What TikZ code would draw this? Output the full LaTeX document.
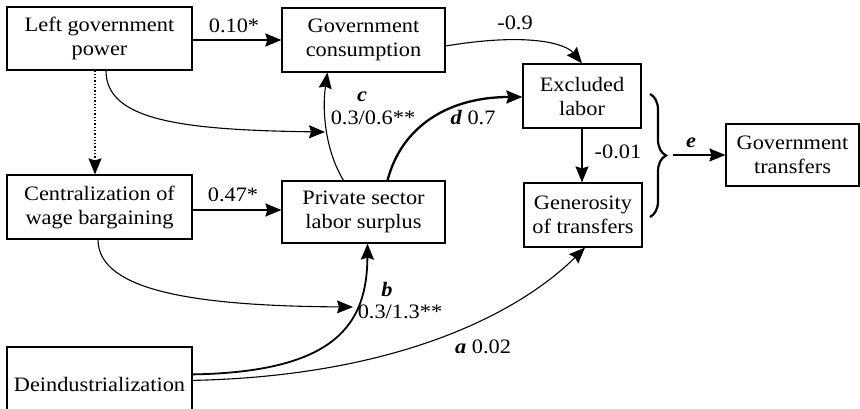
\documentclass[tikz,border=0pt]{standalone}
\usepackage{fontspec}
\setmainfont{Liberation Serif}
\newfontfamily\tnr{Liberation Serif}[FakeStretch=1.09]
\usetikzlibrary{arrows.meta,calc,decorations.pathreplacing}
\begin{document}
\begin{tikzpicture}[x=1pt,y=-1pt,
  box/.style={draw,line width=1.2pt,align=center,inner sep=0pt,font=\tnr\fontsize{20.5}{24}\selectfont},
  lbl/.style={font=\tnr\fontsize{20.5}{24}\selectfont,inner sep=0pt},
  tip/.style={-{Stealth[length=16pt,width=13pt,inset=2pt]}},
  thin/.style={tip,line width=1.1pt},
  med/.style={tip,line width=1.8pt},
  thick/.style={tip,line width=2.3pt}]
\useasboundingbox (0,0) rectangle (860,409);
\node[box,minimum width=185pt,minimum height=63pt] (lgp) at (99.5,38.5) {Left government\\power};
\node[box,minimum width=163pt,minimum height=64pt] (gc) at (363.5,40) {Government\\consumption};
\node[box,minimum width=118pt,minimum height=64pt] (el) at (582,96) {Excluded\\labor};
\node[box,minimum width=118pt,minimum height=64pt] (gen) at (583,215) {Generosity\\of transfers};
\node[box,minimum width=133pt,minimum height=62pt] (gt) at (792.5,155) {Government\\transfers};
\node[box,minimum width=185pt,minimum height=64pt] (cwb) at (99.5,207) {Centralization of\\wage bargaining};
\node[box,minimum width=163pt,minimum height=62pt] (ps) at (363.5,212) {Private sector\\labor surplus};
\begin{scope}
\clip (0,0) rectangle (860,409);
\node[box,minimum width=185pt,minimum height=74pt] (de) at (99.5,384) {Deindustrialization};
\end{scope}
% connectors
\draw[thick] (lgp.east |- 0,40) -- (gc.west |- 0,40);
\node[lbl] at (234,26) {0.10*};
\draw[thin] ($(gc.east)+(0,6)$) .. controls (530,32) and (566,44) .. (el.north);
\node[lbl] at (515,23) {-0.9};
\draw[tip,line width=1.3pt,dotted] (lgp.south -| 95,0) -- (cwb.north -| 95,0);
\coordinate (cpt) at (325,132);
\draw[thin] ($(ps.north)+(-20,0)$) .. controls (325,150) and (322,110) .. ($(gc.south)+(-36,0)$);
\draw[thin] (lgp.south -| 106,0) .. controls (106,120) and (180,130) .. (cpt);
\node[lbl] at (362,97) {\textbf{\textit{c}}};
\node[lbl] at (373,118) {0.3/0.6**};
\draw[thick] ($(ps.north)+(24,0)$) .. controls (402,125) and (450,97) .. (el.west |- 0,97);
\node[lbl] at (473,118) {\textbf{\textit{d}} 0.7};
\draw[med] (cwb.east |- 0,210) -- (ps.west |- 0,210);
\node[lbl] at (233,195) {0.47*};
\coordinate (bpt) at (353,307);
\draw[med] ($(de.north east)+(0,28)$) .. controls (335,372) and (367,325) .. ($(ps.south)+(4,0)$);
\draw[thin] (cwb.south -| 98,0) .. controls (98,292) and (200,306) .. (bpt);
\node[lbl] at (387,290) {\textbf{\textit{b}}};
\node[lbl] at (400,312) {0.3/1.3**};
\draw[thin] ($(de.north east)+(0,34)$) .. controls (400,376) and (520,312) .. ($(gen.south)+(2,0)$);
\node[lbl] at (483,347) {\textbf{\textit{a}} 0.02};
\draw[thin] (el.south) -- (el.south |- gen.north);
\node[lbl] at (618,152) {-0.01};
\draw[line width=2.2pt,decorate,decoration={brace,amplitude=16pt,aspect=0.5}] (650,94) -- (650,217);
\coordinate (bt) at (673,155);
\draw[thin] (bt) -- (gt.west);
\node[lbl] at (691,143) {\textbf{\textit{e}}};
\end{tikzpicture}
\end{document}
